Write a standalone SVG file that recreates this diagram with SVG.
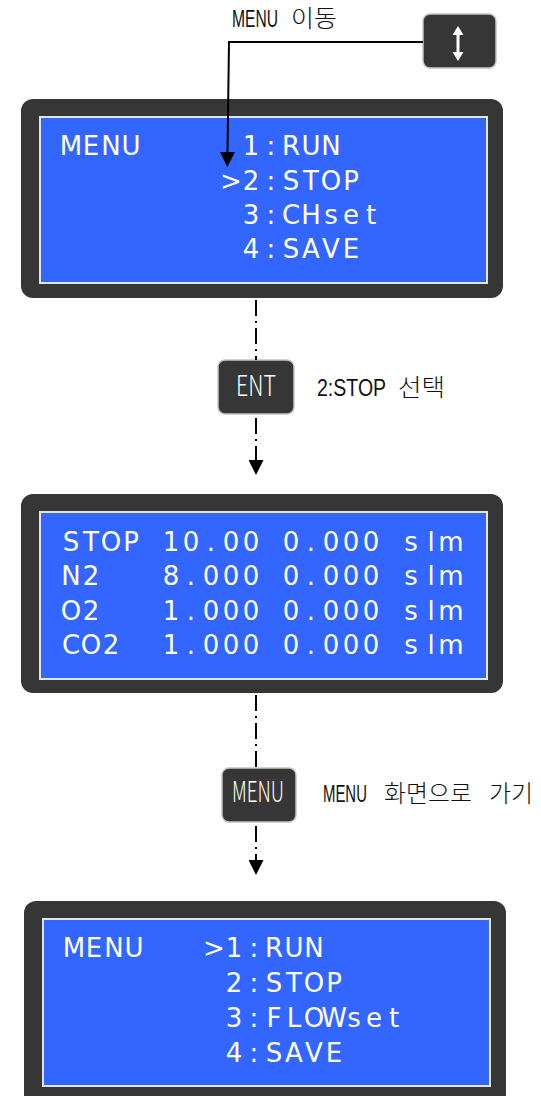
<svg xmlns="http://www.w3.org/2000/svg" width="541" height="1096" viewBox="0 0 541 1096">
<style>
.bezel{fill:#363636}
.lcd{fill:#3366ff;stroke:#e4e4e4;stroke-width:2}
.lt{font-family:"DejaVu Sans","Liberation Sans",sans-serif;font-size:26px;fill:#ffffff;text-anchor:middle}
.btn{fill:#363636;stroke:#c4c4c4;stroke-width:1.5}
.bt{font-family:"Noto Sans CJK KR","Liberation Sans",sans-serif;font-size:28px;font-weight:300;fill:#ffffff;text-anchor:middle}
.lbl{font-family:"Noto Sans CJK KR",sans-serif;font-size:24px;font-weight:300;fill:#111111}
.lat{font-family:"Liberation Sans",Arial,sans-serif;font-size:24px;font-weight:400;fill:#111111}
.solid{fill:none;stroke:#000;stroke-width:2}
.dash{fill:none;stroke:#000;stroke-width:2;stroke-dasharray:16 5 2 5}
</style>
<defs>
<marker id="ah" viewBox="0 0 15 15" refX="0" refY="7.5" markerWidth="15" markerHeight="15" markerUnits="userSpaceOnUse" orient="auto">
<path d="M0,0 L15,7.5 L0,15 z" fill="#000"/>
</marker>
</defs>

<g id="lcd1">
<rect class="bezel" x="21" y="99" width="482" height="199" rx="12"/>
<rect class="lcd" x="40" y="117" width="447" height="166"/>
<text class="lt" y="155"><tspan x="71 91 111 131">MENU</tspan><tspan x="251 271 291 311 331">1:RUN</tspan></text>
<text class="lt" y="190"><tspan x="231 251 271 291 311 331 351">&gt;2:STOP</tspan></text>
<text class="lt" y="224"><tspan x="251 271 291 311 331 351 371">3:CHset</tspan></text>
<text class="lt" y="258"><tspan x="251 271 291 311 331 351">4:SAVE</tspan></text>
</g>

<g id="lcd2">
<rect class="bezel" x="21" y="494" width="482" height="199" rx="12"/>
<rect class="lcd" x="40" y="512" width="447" height="167"/>
<text class="lt" y="551"><tspan x="71 91 111 131">STOP</tspan><tspan x="171 191 211 231 251">10.00</tspan><tspan x="291 311 331 351 371">0.000</tspan><tspan x="411 431 451">slm</tspan></text>
<text class="lt" y="585"><tspan x="71 91">N2</tspan><tspan x="171 191 211 231 251">8.000</tspan><tspan x="291 311 331 351 371">0.000</tspan><tspan x="411 431 451">slm</tspan></text>
<text class="lt" y="620"><tspan x="71 91">O2</tspan><tspan x="171 191 211 231 251">1.000</tspan><tspan x="291 311 331 351 371">0.000</tspan><tspan x="411 431 451">slm</tspan></text>
<text class="lt" y="654"><tspan x="71 91 111">CO2</tspan><tspan x="171 191 211 231 251">1.000</tspan><tspan x="291 311 331 351 371">0.000</tspan><tspan x="411 431 451">slm</tspan></text>
</g>

<g id="lcd3">
<rect class="bezel" x="24" y="901" width="482" height="212" rx="12"/>
<rect class="lcd" x="43" y="919" width="447" height="167"/>
<text class="lt" y="957"><tspan x="74 94 114 134">MENU</tspan><tspan x="214 234 254 274 294 314">&gt;1:RUN</tspan></text>
<text class="lt" y="992"><tspan x="234 254 274 294 314 334">2:STOP</tspan></text>
<text class="lt" y="1027"><tspan x="234 254 274 294 314 334 354 374 394">3:FLOWset</tspan></text>
<text class="lt" y="1062"><tspan x="234 254 274 294 314 334">4:SAVE</tspan></text>
</g>

<g id="btn-updown">
<rect class="btn" x="423" y="14" width="73" height="54" rx="7"/>
<line x1="458" y1="33" x2="458" y2="54" stroke="#fff" stroke-width="3"/>
<path d="M458,26 L463.5,35 L452.5,35 z M458,61 L463.5,52 L452.5,52 z" fill="#fff"/>
</g>

<g id="btn-ent">
<rect class="btn" x="218" y="360" width="76" height="54" rx="7"/>
<text class="bt" x="256" y="396" textLength="40" lengthAdjust="spacingAndGlyphs">ENT</text>
</g>

<g id="btn-menu">
<rect class="btn" x="222" y="768" width="74" height="54" rx="7"/>
<text class="bt" x="258" y="802" textLength="52" lengthAdjust="spacingAndGlyphs">MENU</text>
</g>

<g id="label-move">
<text class="lat" transform="matrix(0.72 0 0 1 232 26.5)" textLength="64" lengthAdjust="spacingAndGlyphs">MENU</text>
<text class="lbl" x="291" y="27" textLength="46" lengthAdjust="spacingAndGlyphs">이동</text>
</g>
<g id="label-select">
<text class="lat" transform="matrix(0.72 0 0 1 317 395.5)" textLength="96" lengthAdjust="spacingAndGlyphs">2:STOP</text>
<text class="lbl" x="398" y="396" textLength="47" lengthAdjust="spacingAndGlyphs">선택</text>
</g>
<g id="label-back">
<text class="lat" transform="matrix(0.72 0 0 1 323 801.5)" textLength="61" lengthAdjust="spacingAndGlyphs">MENU</text>
<text class="lbl" x="384" y="802" textLength="88" lengthAdjust="spacingAndGlyphs">화면으로</text>
<text class="lbl" x="489" y="802" textLength="44" lengthAdjust="spacingAndGlyphs">가기</text>
</g>

<g id="connectors">
<path class="solid" d="M423,42 H229 L227.5,152" marker-end="url(#ah)"/>
<path class="dash" d="M256,300 V360"/>
<path class="dash" d="M256,418 V460" marker-end="url(#ah)"/>
<path class="dash" d="M256,695 V768"/>
<path class="dash" d="M256,826 V860" marker-end="url(#ah)"/>
</g>
</svg>
